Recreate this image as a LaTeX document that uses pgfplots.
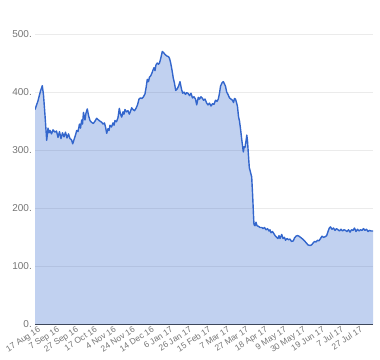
\documentclass[border=0pt]{standalone}
\usepackage{pgfplots}
\usepackage{pgfplotstable}
\pgfplotsset{compat=1.18}
\usepackage{fontspec}
\setmainfont{Liberation Sans}
\definecolor{gline}{RGB}{51,102,204}
\definecolor{gfill}{RGB}{194,209,240}
\definecolor{glabel}{RGB}{117,117,117}
\pgfplotstableread{
x y
0 370
3 385
5.5 402
7.3 411
8.5 395
10 360
11.7 317
13 338
14 330
15 334
16.5 328
18 335
20 331
21.5 333
23 322
24.5 332
26 320
27.5 330
29 323
30.5 331
32 321
33.5 328
35 320
36.5 318
37.7 311
39 318
40.5 326
41.7 334
43 332
44.5 345
45.5 338
46.7 352
47.5 345
48.5 365
50 352
51 364
52.3 371
53.5 360
55 351
56.5 348
58.3 346
60 350
61.7 355
63.5 352
65 350
66.7 348
68 345
69.5 347
70.5 340
71.7 329
73 337
74 334
75 343
76.5 340
78 347
79 343
80 351
81.5 349
83 356
84.3 372
85.5 362
86.7 357
88 366
89 362
90 370
91.5 366
93 368
94.3 362
95.5 367
96.7 373
98 370
99.5 368
101 372
102.5 378
104 388
105.5 390
107 389
108.5 392
110 397
111.3 410
112.3 422
113.5 418
114.5 426
115.7 428
117 433
118 438
119 442
120 437
121 447
122.3 450
123.5 448
124.5 450
126 460
127.3 470
129 467
130.5 464
132 462
133.5 461
134.5 458
135.7 450
137 438
138.3 424
139.5 415
140.7 403
142 405
143.5 410
145 418
146.5 405
147.7 398
149 400
150.5 396
151.7 399
153 398
154.5 394
156 398
157.5 390
159 392
160.5 388
161.7 378
163.3 391
164.5 388
166 392
167.5 389
168.5 386
170 388
171.7 381
173 378
174.5 381
176 376
177.5 380
179 379
180.5 386
182 384
183.3 388
184.5 398
185.5 410
187 416
188.3 418
189.5 414
190.5 410
191.7 400
193 396
194.5 390
196 388
197.5 386
198.5 382
199.5 389
200.5 388
201.5 382
202.5 375
203.5 358
204.5 350
205.5 337
206.5 322
207.5 308
208.3 297
209.2 306
210 305
211.2 318
211.8 326
212.5 316
213.3 295
214.3 270
215.5 262
216.7 254
217.7 220
218.5 188
219 172
220 170
221 176
222 170
223.5 169
225 167
226.7 167
228 165
229.5 167
231 163
232.5 165
234 161
235 163
236 158
237.5 160
239 156
240.5 152
241.7 150
243 148
244 153
245 148
246.7 155
248 148
249.5 150
250.5 145
252 148
253.5 146
255 147
256.5 143
258.3 144
259.5 149
261 152
262.5 153
264 152
265.5 150
267 148
268.3 146
270 143
271.5 140
273 137
275 136
276.5 137
278 140
279.5 143
281 142
282.5 145
284 144
285.5 148
287 152
288.5 150
290 151
291.7 153
293 160
294.3 166
295.5 168
297 164
298.5 166
300 162
301.5 165
303 163
304.5 161
306 164
307.5 161
309 163
310.5 162
312 160
313.5 163
315 159
316.5 163
318 162
319.5 166
321 160
322.5 164
324 161
325.5 163
327 162
328.5 165
330 162
331.5 164
333 160
334.5 162
336 161
338 161
}\prices
\begin{document}
\begin{tikzpicture}
\begin{axis}[
  name=ax,
  scale only axis,
  width=338bp, height=290.5bp,
  xmin=0, xmax=338, ymin=0, ymax=500,
  axis x line*=bottom,
  axis y line*=left,
  x axis line style={-, draw=black!75, line width=1.3bp},
  y axis line style={draw=none},
  ytick={0,100,200,300,400,500},
  yticklabels={0.,100.,200.,300.,400.,500.},
  ymajorgrids,
  grid style={draw=black!8, line width=0.8bp},
  major tick length=0pt,
  xtick={3,21.94,40.88,59.82,78.76,97.7,116.64,135.58,154.52,173.46,192.4,211.34,230.28,249.22,268.16,287.1,306.04,324.98},
  xticklabels={17 Aug 16,7 Sep 16,27 Sep 16,17 Oct 16,4 Nov 16,24 Nov 16,14 Dec 16,6 Jan 17,26 Jan 17,15 Feb 17,7 Mar 17,27 Mar 17,18 Apr 17,9 May 17,30 May 17,19 Jun 17,7 Jul 17,27 Jul 17},
  x tick label style={rotate=33, anchor=north east, font=\fontsize{8.5bp}{9bp}\selectfont, text=glabel, inner sep=1bp},
  y tick label style={font=\fontsize{10bp}{12bp}\selectfont, text=glabel, inner sep=2bp},
  yticklabel style={anchor=east, xshift=-1bp},
  clip=true,
]
\addplot[fill=gline, fill opacity=0.3, draw=none] table[x=x,y=y]{\prices} \closedcycle;
\addplot[gline, line width=1.4bp, line join=round] table[x=x,y=y]{\prices};
\end{axis}
\pgfresetboundingbox
\path (ax.south west) ++(-35bp,-35.5bp) rectangle ++(380bp,360bp);
\end{tikzpicture}
\end{document}
